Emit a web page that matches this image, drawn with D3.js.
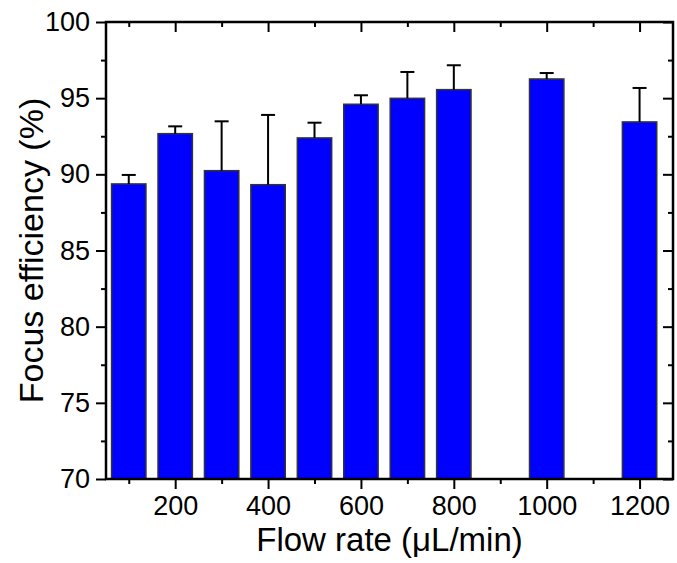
<!DOCTYPE html>
<html>
<head>
<meta charset="utf-8">
<script src="https://cdn.jsdelivr.net/npm/d3@7"></script>
<style>
  html, body { margin: 0; padding: 0; background: #fff; }
  svg { display: block; font-family: "Liberation Sans", Arial, sans-serif; }
</style>
</head>
<body>
<svg id="chart" width="677" height="563"></svg>
<script>
// ---- data ----
const flowRates = [100, 200, 300, 400, 500, 600, 700, 800, 1000, 1200];
const efficiency = [89.37, 92.67, 90.24, 89.32, 92.39, 94.60, 94.99, 95.56, 96.26, 93.44];
const errorUp = [0.59, 0.48, 3.24, 4.58, 1.00, 0.59, 1.73, 1.60, 0.39, 2.23];
const xMajorTicks = [200, 400, 600, 800, 1000, 1200];
const xMinorTicks = [100, 300, 500, 700, 900, 1100];
const yMajorTicks = [70, 75, 80, 85, 90, 95, 100];
const yMinorTicks = [72.5, 77.5, 82.5, 87.5, 92.5, 97.5];
const xTitle = "Flow rate (\u03bcL/min)";
const yTitle = "Focus efficiency (%)";

// ---- layout ----
const L = 106, R = 673, T = 22, B = 479;
const barWidthUnits = 74;

const svg = d3.select("#chart");
const x = d3.scaleLinear().domain([51, 1272]).range([L, R]);
const y = d3.scaleLinear().domain([70, 100]).range([B, T]);

const data = flowRates.map((f, i) => ({ f, v: efficiency[i], e: errorUp[i] }));
const bw = x(barWidthUnits) - x(0);

// bars
svg.append("g").selectAll("rect").data(data).join("rect")
  .attr("x", d => x(d.f) - bw / 2)
  .attr("y", d => y(d.v))
  .attr("width", bw)
  .attr("height", d => y(70) - y(d.v))
  .attr("fill", "#0000ff")
  .attr("stroke", "#333")
  .attr("stroke-width", 1.5);

// error bars (upper only)
const eb = svg.append("g").attr("stroke", "#000").attr("stroke-width", 2);
eb.selectAll("line.v").data(data).join("line").attr("class", "v")
  .attr("x1", d => x(d.f)).attr("x2", d => x(d.f))
  .attr("y1", d => y(d.v)).attr("y2", d => y(d.v + d.e));
eb.selectAll("line.c").data(data).join("line").attr("class", "c")
  .attr("x1", d => x(d.f) - 7).attr("x2", d => x(d.f) + 7)
  .attr("y1", d => y(d.v + d.e)).attr("y2", d => y(d.v + d.e));

function styleAxis(g) {
  g.select(".domain").remove();
  g.selectAll(".tick line").attr("stroke", "#000").attr("stroke-width", 2);
  g.selectAll(".tick text").attr("fill", "#000").attr("font-size", 27)
    .attr("font-family", "'Liberation Sans', Arial, sans-serif");
}

// bottom axis
svg.append("g").attr("transform", `translate(0,${B})`)
  .call(d3.axisBottom(x).tickValues(xMajorTicks).tickSize(10).tickPadding(7).tickFormat(d3.format("d")))
  .call(styleAxis);
svg.append("g").attr("transform", `translate(0,${B})`)
  .call(d3.axisBottom(x).tickValues(xMinorTicks).tickSize(5).tickFormat(""))
  .call(styleAxis);
// top axis (ticks inward)
svg.append("g").attr("transform", `translate(0,${T})`)
  .call(d3.axisBottom(x).tickValues(xMajorTicks).tickSize(10).tickFormat(""))
  .call(styleAxis);
svg.append("g").attr("transform", `translate(0,${T})`)
  .call(d3.axisBottom(x).tickValues(xMinorTicks).tickSize(5).tickFormat(""))
  .call(styleAxis);
// left axis
svg.append("g").attr("transform", `translate(${L},0)`)
  .call(d3.axisLeft(y).tickValues(yMajorTicks).tickSize(10).tickPadding(6).tickFormat(d3.format("d")))
  .call(styleAxis);
svg.append("g").attr("transform", `translate(${L},0)`)
  .call(d3.axisLeft(y).tickValues(yMinorTicks).tickSize(5).tickFormat(""))
  .call(styleAxis);
// right axis (ticks inward)
svg.append("g").attr("transform", `translate(${R},0)`)
  .call(d3.axisLeft(y).tickValues(yMajorTicks).tickSize(10).tickFormat(""))
  .call(styleAxis);
svg.append("g").attr("transform", `translate(${R},0)`)
  .call(d3.axisLeft(y).tickValues(yMinorTicks).tickSize(5).tickFormat(""))
  .call(styleAxis);

// frame
svg.append("rect").attr("x", L).attr("y", T).attr("width", R - L).attr("height", B - T)
  .attr("fill", "none").attr("stroke", "#000").attr("stroke-width", 2.5);

// titles
svg.append("text").attr("x", (L + R) / 2).attr("y", 551)
  .attr("text-anchor", "middle").attr("font-size", 33).attr("fill", "#000")
  .text(xTitle);
svg.append("text").attr("transform", `translate(43,${(T + B) / 2}) rotate(-90)`)
  .attr("text-anchor", "middle").attr("font-size", 34).attr("fill", "#000")
  .text(yTitle);
</script>
</body>
</html>
